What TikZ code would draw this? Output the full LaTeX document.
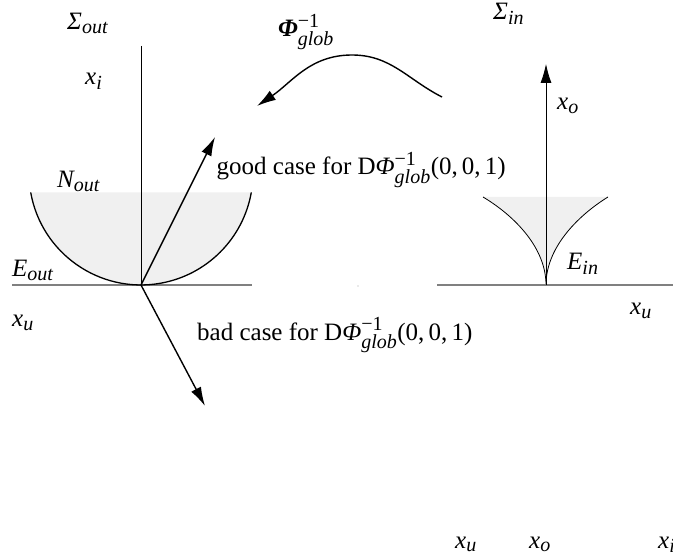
\documentclass[tikz,border=0pt]{standalone}
\usepackage{amsmath}
\usepackage{fontspec}
\setmainfont{Liberation Serif}
\DeclareMathSizes{25}{25}{20}{15}
\usetikzlibrary{arrows.meta}
\tikzset{
  lbl/.style={inner sep=0pt, anchor=base west},
  axisline/.style={draw=black!50, line width=1.4pt},
  thinline/.style={line width=0.8pt},
  vec/.style={line width=1.4pt, -{Latex[length=19pt,width=11pt]}},
  shade/.style={fill=black!6},
}
\newcommand\phig{\textit{Φ}^{\textup{−1}}_{\textit{glob}}}
\begin{document}
\begin{tikzpicture}[x=1pt,y=1pt,font=\fontsize{25}{30}\selectfont]
\useasboundingbox (0,0) rectangle (673,558);
% ---------- left panel ----------
\coordinate (O1) at (141,273);
\coordinate (L1) at (12,273);
\coordinate (R1) at (252,273);
\coordinate (T1) at (141,512);
\coordinate (A1) at (30.7,365.6);
\fill[shade] (A1) arc[start angle=190,end angle=350,radius=112] -- cycle;
\draw[axisline] (L1) -- (R1);
\draw[thinline] (T1) -- (O1);
\draw[line width=1.3pt] (A1) arc[start angle=190,end angle=350,radius=112];
\coordinate (G) at (215,421);
\coordinate (B) at (205,152);
\draw[vec] (O1) -- (G);
\draw[vec] (O1) -- (B);
\node[lbl] (sout) at (67,528) {$\textit{Σ}_{\textit{out}}$};
\node[lbl] (xi) at (85,473) {$\textit{x}_{\textit{i}}$};
\node[lbl] (nout) at (57,370) {$\textit{N}_{\textit{out}}$};
\node[lbl] (eout) at (12,281) {$\textit{E}_{\textit{out}}$};
\node[lbl] (xu1) at (12,231) {$\textit{x}_{\textit{u}}$};
\node[lbl] (good) at (216.5,383) {good case for D$\phig$(0,\,0,\,1)};
\node[lbl] (bad) at (197,218) {bad case for D$\phig$(0,\,0,\,1)};
% ---------- map arrow ----------
\coordinate (M1) at (442,461);
\coordinate (M2) at (352,503);
\coordinate (M3) at (257,452);
\draw[vec] (M1) to[out=153,in=0] (M2) to[out=180,in=34] (M3);
\node[lbl] (phi) at (278,521) {$\textbf{\textit{Φ}}^{\textup{−1}}_{\textit{glob}}$};
\fill (358,272) circle (0.4pt);
% ---------- right panel ----------
\coordinate (O2) at (546,273);
\coordinate (L2) at (437,273);
\coordinate (R2) at (673,273);
\coordinate (T2) at (546,494);
\coordinate (C1) at (483,361);
\coordinate (C2) at (608,361);
\fill[shade] (C1) .. controls (510,345) and (546,313) .. (O2)
  .. controls (546,313) and (582,345) .. (C2) -- cycle;
\draw[thinline] (C1) .. controls (510,345) and (546,313) .. (O2)
  .. controls (546,313) and (582,345) .. (C2);
\draw[axisline] (L2) -- (R2);
\draw[thinline, -{Latex[length=19pt,width=11pt]}] (O2) -- (T2);
\node[lbl] (sin) at (493,538) {$\textit{Σ}_{\textit{in}}$};
\node[lbl] (xo) at (557,448) {$\textit{x}_{\textit{o}}$};
\node[lbl] (ein) at (567,288) {$\textit{E}_{\textit{in}}$};
\node[lbl] (xu2) at (630,243) {$\textit{x}_{\textit{u}}$};
% ---------- bottom labels ----------
\node[lbl] (bxu) at (455,10) {$\textit{x}_{\textit{u}}$};
\node[lbl] (bxo) at (529,10) {$\textit{x}_{\textit{o}}$};
\node[lbl] (bxi) at (658,10) {$\textit{x}_{\textit{i}}$};
\end{tikzpicture}
\end{document}
